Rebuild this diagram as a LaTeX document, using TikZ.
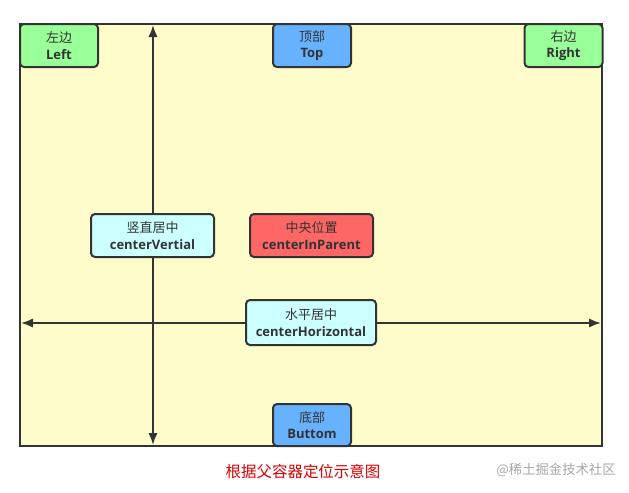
\documentclass[tikz,border=0pt]{standalone}
\usepackage{fontspec}
\setmainfont{Open Sans}
\newfontfamily\cjk{Noto Sans CJK SC}
\usetikzlibrary{arrows.meta}
\colorlet{frame area}{yellow!20}
\colorlet{frame edge}{black!80}
\definecolor{side fill}{HTML}{99FF99}
\definecolor{edge fill}{HTML}{66B2FF}
\definecolor{mid fill}{HTML}{CCFFFF}
\definecolor{core fill}{HTML}{FF6666}
\tikzset{place/.style={draw=frame edge, line width=1.5pt, rounded corners=3pt,
        align=center, inner sep=0pt, minimum height=32.25pt, text=black!80,
        font=\fontsize{9.75}{12.5}\selectfont},
    axis/.style={draw=frame edge, line width=1.5pt, {Latex[length=9pt,width=7pt]}-{Latex[length=9pt,width=7pt]}}}
\newcommand{\spot}[2]{{\cjk #1}\\\textbf{#2}}

\begin{document}
\begin{tikzpicture}[x=0.75pt, y=-0.75pt]
    \useasboundingbox (0,0) rectangle (629,493);
    \fill[frame area] (20,24) rectangle (602,446);
    % axes through the frame
    \coordinate (north) at (153,25);
    \coordinate (south) at (153,445);
    \coordinate (west) at (21,323);
    \coordinate (east) at (601,323);
    \draw[axis] (south) -- (north);
    \draw[axis] (west) -- (east);
    \draw[draw=frame edge, line width=1.5pt] (20,24) rectangle (602,446);
    % positions
    \node[place, fill=side fill, minimum width=58.5pt] (left) at (59,45.5) {\spot{左边}{Left}};
    \node[place, fill=edge fill, minimum width=58.5pt] (top) at (312,45.5) {\spot{顶部}{Top}};
    \node[place, fill=side fill, minimum width=58.5pt] (right) at (563.5,45.5) {\spot{右边}{Right}};
    \node[place, fill=mid fill, minimum width=92.25pt] (vertical) at (152.5,235.5) {\spot{竖直居中}{centerVertial}};
    \node[place, fill=core fill, minimum width=92.25pt] (parent) at (311.5,235.5) {\spot{中央位置}{centerInParent}};
    \node[place, fill=mid fill, minimum width=97.5pt, minimum height=33.75pt] (horizontal) at (311,322.5) {\spot{水平居中}{centerHorizontal}};
    \node[place, fill=edge fill, minimum width=58.5pt, minimum height=31.5pt] (bottom) at (312,425) {\spot{底部}{Buttom}};
    % caption and mark
    \node[text=red!85!black, font=\cjk\fontsize{11.6}{14}\selectfont] (caption) at (303,472) {根据父容器定位示意图};
    \node[text=black!35, font=\cjk\fontsize{10}{12}\selectfont] (mark) at (556,470) {@稀土掘金技术社区};
\end{tikzpicture}
\end{document}
